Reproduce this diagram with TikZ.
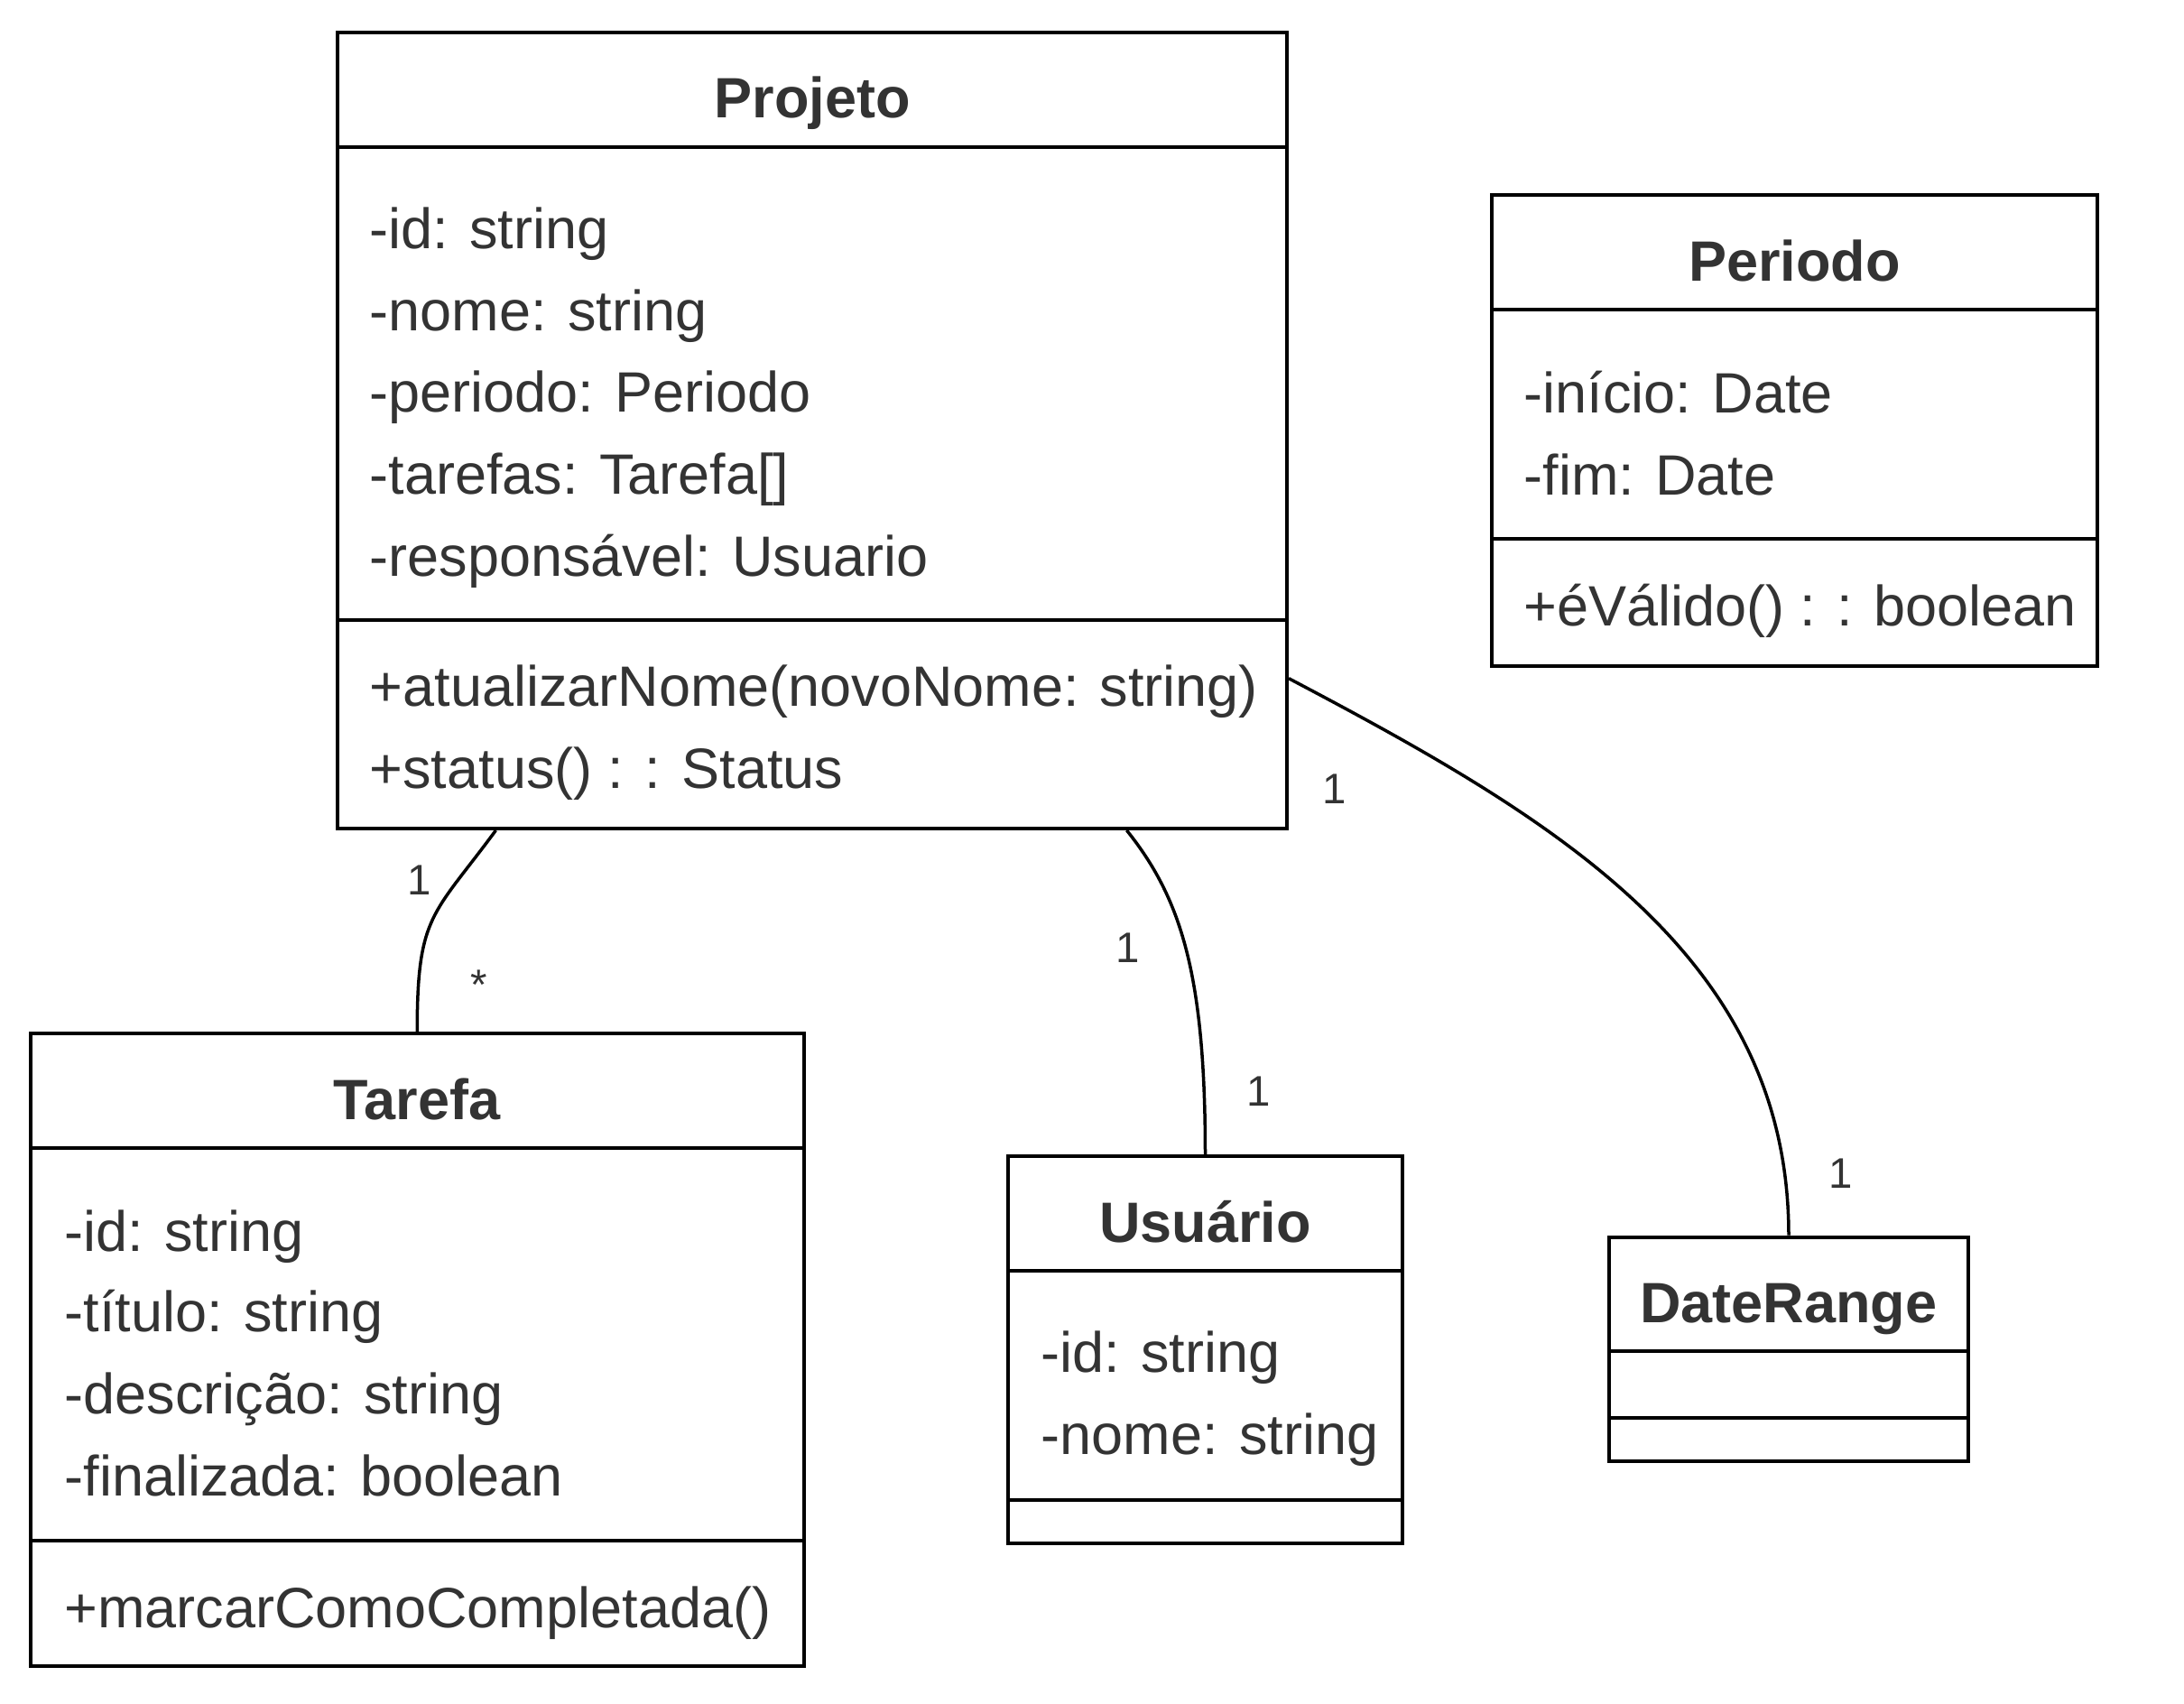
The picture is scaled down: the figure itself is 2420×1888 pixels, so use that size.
\documentclass[tikz,border=0pt]{standalone}
\usepackage{fontspec}
\setmainfont{Liberation Sans}
\usetikzlibrary{fit,calc}
\definecolor{txt}{HTML}{333333}
\tikzset{
  classbox/.style={draw=black, line width=1.2pt, inner sep=0pt},
  sepline/.style={draw=black, line width=1.2pt},
  ctitle/.style={font=\bfseries\fontsize{18.9}{23}\selectfont, text=txt, anchor=base, inner sep=0pt},
  member/.style={font=\fontsize{18.9}{23}\selectfont, text=txt, anchor=base west, inner sep=0pt},
  mult/.style={font=\fontsize{14.2}{17}\selectfont, text=txt, anchor=base, inner sep=0pt},
  assoc/.style={draw=black, line width=1.05pt},
}
\begin{document}
\begin{tikzpicture}[x=0.3pt,y=-0.3pt]
\useasboundingbox[fill=white] (0,0) rectangle (2420,1888);

% Projeto
\node[classbox, fit={(374,36) (1426,918)}] (projeto) {};
\draw[sepline] (374,163) -- (1426,163);
\draw[sepline] (374,687) -- (1426,687);
\node[ctitle] (projetoT) at (900,130) {Projeto};
\node[member] (p1) at (409,275) {-id: string};
\node[member] (p2) at (409,366) {-nome: string};
\node[member] (p3) at (409,456) {-periodo: Periodo};
\node[member] (p4) at (409,547) {-tarefas: Tarefa[]};
\node[member] (p5) at (409,638) {-responsável: Usuario};
\node[member] (p6) at (409,782) {+atualizarNome(novoNome: string)};
\node[member] (p7) at (409,873) {+status() : : Status};

% Periodo
\node[classbox, fit={(1653,216) (2324,738)}] (periodo) {};
\draw[sepline] (1653,343) -- (2324,343);
\draw[sepline] (1653,597) -- (2324,597);
\node[ctitle] (periodoT) at (1988.5,311) {Periodo};
\node[member] (pe1) at (1688,457) {-início: Date};
\node[member] (pe2) at (1688,548) {-fim: Date};
\node[member] (pe3) at (1688,693) {+éVálido() : : boolean};

% Tarefa
\node[classbox, fit={(34,1145) (890.5,1846)}] (tarefa) {};
\draw[sepline] (34,1272) -- (890.5,1272);
\draw[sepline] (34,1707) -- (890.5,1707);
\node[ctitle] (tarefaT) at (462,1240) {Tarefa};
\node[member] (t1) at (71,1386) {-id: string};
\node[member] (t2) at (71,1475) {-título: string};
\node[member] (t3) at (71,1566) {-descrição: string};
\node[member] (t4) at (71,1657) {-finalizada: boolean};
\node[member] (t5) at (71,1803) {+marcarComoCompletada()};

% Usuario
\node[classbox, fit={(1117,1281) (1554,1710)}] (usuario) {};
\draw[sepline] (1117,1408) -- (1554,1408);
\draw[sepline] (1117,1662) -- (1554,1662);
\node[ctitle] (usuarioT) at (1335.5,1376) {Usuário};
\node[member] (u1) at (1153,1520) {-id: string};
\node[member] (u2) at (1153,1611) {-nome: string};

% DateRange
\node[classbox, fit={(1783,1370.5) (2181,1619)}] (daterange) {};
\draw[sepline] (1783,1497) -- (2181,1497);
\draw[sepline] (1783,1571) -- (2181,1571);
\node[ctitle] (daterangeT) at (1982,1465) {DateRange};

% Associations
\draw[assoc] ($(projeto.south west)!0.168!(projeto.south east)$)
  .. controls +(-70,95) and +(0,-130) .. (tarefa.north);
\draw[assoc] ($(projeto.south west)!0.83!(projeto.south east)$)
  .. controls +(60,75) and +(0,-200) .. (usuario.north);
\draw[assoc] ($(projeto.north east)!0.81!(projeto.south east)$)
  .. controls +(294,155) and +(0,-310) .. (daterange.north);

% Multiplicities
\node[mult] (m1) at (464.6,991) {1};
\node[mult] (m2) at (531,1107) {*};
\node[mult] (m3) at (1250,1066.5) {1};
\node[mult] (m4) at (1395,1225.5) {1};
\node[mult] (m5) at (1478.6,890.6) {1};
\node[mult] (m6) at (2040,1316.6) {1};
\end{tikzpicture}
\end{document}
